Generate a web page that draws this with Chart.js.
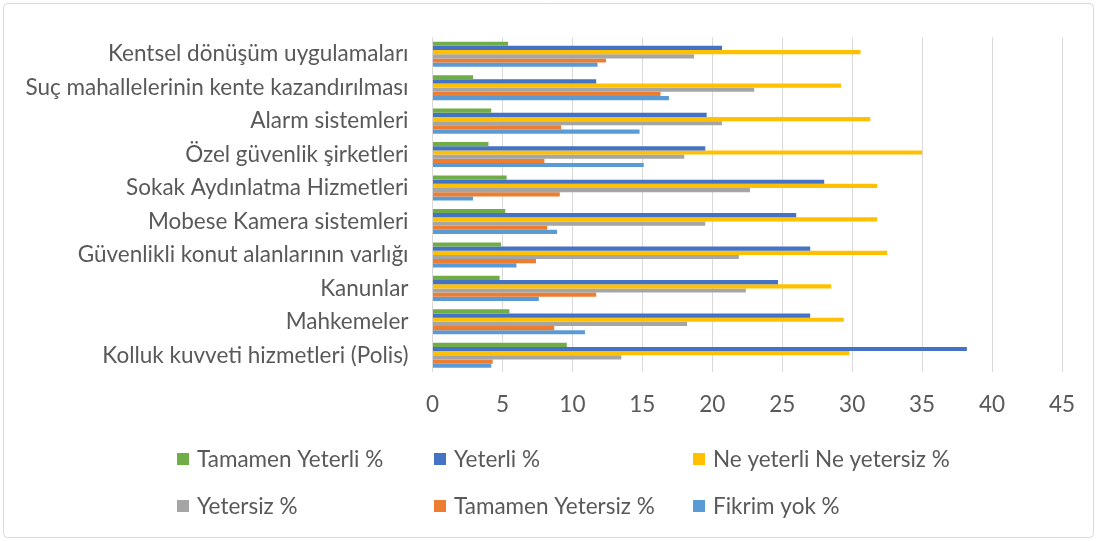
<!DOCTYPE html>
<html>
<head>
<meta charset="utf-8">
<script src="https://cdn.jsdelivr.net/npm/chart.js@4.4.1/dist/chart.umd.min.js"></script>
<style>
html,body{margin:0;padding:0;background:#fff;}
#wrap{position:relative;width:1097px;height:541px;}
</style>
</head>
<body>
<div id="wrap"><canvas id="c" width="1097" height="541"></canvas></div>
<script>
const categories = ["Kentsel dönüşüm uygulamaları","Suç mahallelerinin kente kazandırılması","Alarm sistemleri","Özel güvenlik şirketleri","Sokak Aydınlatma Hizmetleri","Mobese Kamera sistemleri","Güvenlikli konut alanlarının varlığı","Kanunlar","Mahkemeler","Kolluk kuvveti hizmetleri (Polis)"];
const seriesNames = ["Tamamen Yeterli %","Yeterli %","Ne yeterli Ne yetersiz %","Yetersiz %","Tamamen Yetersiz %","Fikrim yok %"];
const tamamenYeterli = [5.4, 2.9, 4.2, 4.0, 5.3, 5.2, 4.9, 4.8, 5.5, 9.6];
const yeterli = [20.7, 11.7, 19.6, 19.5, 28.0, 26.0, 27.0, 24.7, 27.0, 38.2];
const neYeterliNeYetersiz = [30.6, 29.2, 31.3, 35.0, 31.8, 31.8, 32.5, 28.5, 29.4, 29.8];
const yetersiz = [18.7, 23.0, 20.7, 18.0, 22.7, 19.5, 21.9, 22.4, 18.2, 13.5];
const tamamenYetersiz = [12.4, 16.3, 9.2, 8.0, 9.1, 8.2, 7.4, 11.7, 8.7, 4.3];
const fikrimYok = [11.8, 16.9, 14.8, 15.1, 2.9, 8.9, 6.0, 7.6, 10.9, 4.2];
const xTicks = [0,5,10,15,20,25,30,35,40,45];

const colors = ["#70AD47","#4472C4","#FFC000","#A5A5A5","#ED7D31","#5B9BD5"];
const seriesData = [tamamenYeterli, yeterli, neYeterliNeYetersiz, yetersiz, tamamenYetersiz, fikrimYok];
const FONT = "Lato, 'Open Sans', sans-serif";
const FS = 22.5;
const TXT = "#595959";

const framePlugin = {
  id: 'frame',
  beforeDraw(chart){
    const ctx = chart.ctx;
    ctx.save();
    ctx.fillStyle = '#ffffff';
    ctx.fillRect(0,0,chart.width,chart.height);
    ctx.strokeStyle = '#d9d9d9';
    ctx.lineWidth = 1;
    ctx.beginPath();
    if (ctx.roundRect) ctx.roundRect(3.5,3.5,chart.width-7,chart.height-7,4); else ctx.rect(3.5,3.5,chart.width-7,chart.height-7);
    ctx.stroke();
    ctx.restore();
  }
};

const legendPlugin = {
  id: 'gridLegend',
  afterDraw(chart){
    const ctx = chart.ctx;
    const colX = [177, 434, 693];
    const rowY = [459, 506];
    ctx.save();
    ctx.font = FS + "px " + FONT;
    ctx.textBaseline = 'middle';
    ctx.textAlign = 'left';
    chart.data.datasets.forEach((ds,i)=>{
      const x = colX[i%3], y = rowY[Math.floor(i/3)];
      ctx.fillStyle = ds.backgroundColor;
      ctx.fillRect(x, y-6, 12, 12);
      ctx.fillStyle = TXT;
      ctx.fillText(ds.label, x+20, y+1);
    });
    ctx.restore();
  }
};

new Chart(document.getElementById('c'), {
  type: 'bar',
  data: {
    labels: categories,
    datasets: seriesNames.map((n,i)=>({
      label: n,
      data: seriesData[i],
      backgroundColor: colors[i],
      borderWidth: 0,
      categoryPercentage: 0.75,
      barPercentage: 1.0
    }))
  },
  options: {
    indexAxis: 'y',
    responsive: false,
    animation: false,
    devicePixelRatio: 1,
    layout: { padding: { left: 0, right: 35, top: 33, bottom: 0 } },
    plugins: { legend: { display: false }, tooltip: { enabled: false } },
    scales: {
      x: {
        min: 0, max: 45,
        afterBuildTicks(scale){ scale.ticks = xTicks.map(v=>({value:v})); },
        grid: { color: '#d9d9d9', lineWidth: 1, drawTicks: false },
        border: { display: false },
        ticks: { color: TXT, font: { size: FS, family: FONT }, padding: 19 },
        afterFit(scale){ scale.height = 541 - 33 - 339; }
      },
      y: {
        grid: { display: false, drawTicks: false },
        border: { display: false },
        ticks: { color: TXT, font: { size: FS, family: FONT }, padding: 24, autoSkip: false },
        afterFit(scale){ scale.width = 432.5; }
      }
    }
  },
  plugins: [framePlugin, legendPlugin]
});
</script>
</body>
</html>
